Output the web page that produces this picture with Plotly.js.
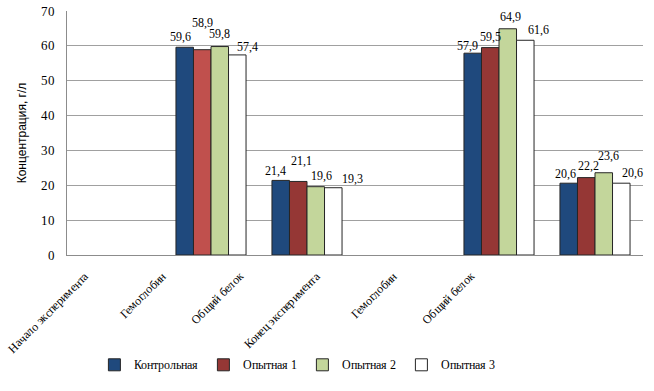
<!DOCTYPE html>
<html><head><meta charset="utf-8">
<script src="https://cdn.plot.ly/plotly-3.0.1.min.js"></script>
<style>
@font-face{font-family:'ChartSerif';src:local('Liberation Serif'),local('LiberationSerif'),local('LiberationSerif-Regular'),local('DejaVu Serif'),local('DejaVuSerif');}
html,body{margin:0;padding:0;background:#fff}#c{width:654px;height:391px}
</style>
</head><body><div id="c"></div>
<script>
const categories = ["Начало эксперимента","Гемоглобин","Общий белок","Конец эксперимента","Гемоглобин ","Общий белок "];
const seriesNames = ["Контрольная","Опытная 1","Опытная 2","Опытная 3"];
const control = [null, 59.6, 21.4, null, 57.9, 20.6];
const exp1    = [null, 58.9, 21.1, null, 59.5, 22.2];
const exp2    = [null, 59.8, 19.6, null, 64.9, 23.6];
const exp3    = [null, 57.4, 19.3, null, 61.6, 20.6];
const yTicks  = [0,10,20,30,40,50,60,70];

const series = [control, exp1, exp2, exp3];
const colors = [
  '#1F497D',
  ['#953735','#C0504D','#953735','#953735','#953735','#953735'],
  '#C3D69B',
  '#FFFFFF'
];
const serif = 'ChartSerif, Times New Roman, Liberation Serif, serif';

const traces = series.map((vals, k) => ({
  type: 'bar', name: seriesNames[k], x: categories, y: vals,
  marker: {color: colors[k], line: {color: '#262626', width: 1}},
  hoverinfo: 'none'
}));

// label offsets (style): [dx px relative to bar center, dy px above bar top]
const labelOffsets = [
  [null, [-4,10], [-5,9], null, [-5,7], [-3,9]],
  [null, [0,27],  [3,20], null, [0,11], [2,12]],
  [null, [0,13],  [6,11], null, [3,12], [5,17]],
  [null, [10,8],  [19,9], null, [13,10], [11,10]]
];
const barStep = 17.5;
const annotations = [];
series.forEach((vals, k) => {
  vals.forEach((v, i) => {
    if (v === null) return;
    const off = labelOffsets[k][i];
    annotations.push({
      x: categories[i], y: v, xref: 'x', yref: 'y',
      text: v.toFixed(1).replace('.', ','),
      showarrow: false, xanchor: 'center', yanchor: 'middle',
      xshift: (k - 1.5) * barStep + off[0], yshift: off[1],
      font: {family: serif, size: 12, color: '#000'}
    });
  });
});
categories.forEach((c, i) => {
  annotations.push({
    x: c, y: 0, xref: 'x', yref: 'y', text: c.trim(), textangle: -45,
    showarrow: false, xanchor: 'right', yanchor: 'top',
    xshift: -20 - 19 * i, yshift: -11,
    font: {family: serif, size: 12, color: '#000'}
  });
});

const layout = {
  width: 654, height: 391,
  margin: {l: 67, r: 11, t: 11, b: 127},
  paper_bgcolor: '#fff', plot_bgcolor: '#fff',
  font: {family: serif},
  barmode: 'group', bargap: 0.27, bargroupgap: 0,
  showlegend: true,
  legend: {orientation: 'h', x: 0.40, xanchor: 'center', y: -0.45, yanchor: 'middle',
           font: {family: serif, size: 12, color: '#000'}, itemclick: false},
  xaxis: {type: 'category', showticklabels: false, showgrid: false, ticks: '',
          showline: true, linecolor: '#8C8C8C', linewidth: 1, range: [-0.5, 5.5]},
  yaxis: {range: [0, 70], tickvals: yTicks, showgrid: true, gridcolor: '#A0A0A0', gridwidth: 1,
          showline: true, linecolor: '#8C8C8C', linewidth: 1, zeroline: false, ticks: '',
          ticklabelstandoff: 8,
          tickfont: {family: serif, size: 13, color: '#000'},
          title: {text: 'Концентрация, г/л', standoff: 12,
                  font: {family: 'Liberation Sans, Arial, sans-serif', size: 12, color: '#000'}}},
  annotations: annotations
};
Plotly.newPlot('c', traces, layout, {staticPlot: true, displayModeBar: false});
</script></body></html>
